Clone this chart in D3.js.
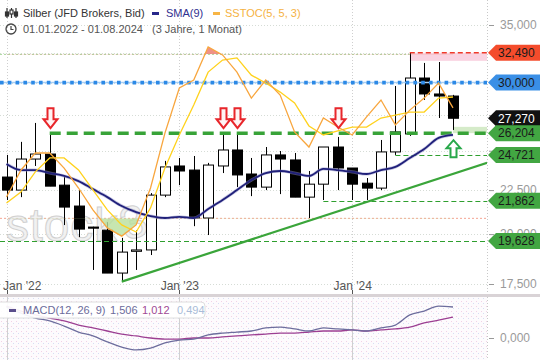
<!DOCTYPE html>
<html lang="de">
<head>
<meta charset="utf-8">
<title>Silber (JFD Brokers, Bid)</title>
<script src="https://cdnjs.cloudflare.com/ajax/libs/d3/7.8.5/d3.min.js"></script>
<style>
  html, body { margin: 0; padding: 0; background: #fff; }
  text { font-family: "Liberation Sans", Arial, sans-serif; }
</style>
</head>
<body>
<div id="chart"></div>
<script>
// Monatskerzen 01.2022 - 08.2024
const months = ["2022-01","2022-02","2022-03","2022-04","2022-05","2022-06","2022-07","2022-08",
  "2022-09","2022-10","2022-11","2022-12","2023-01","2023-02","2023-03","2023-04","2023-05","2023-06",
  "2023-07","2023-08","2023-09","2023-10","2023-11","2023-12","2024-01","2024-02","2024-03","2024-04",
  "2024-05","2024-06","2024-07","2024-08"];
const open  = [23.30, 22.50, 24.45, 24.78, 22.80, 21.56, 20.38, 20.21, 18.02, 19.10, 19.17, 22.20, 24.00, 23.74, 20.88, 24.00,
               25.05, 23.49, 22.68, 24.72, 24.39, 22.08, 22.86, 25.25, 23.87, 22.92, 22.62, 24.92, 26.15, 30.37, 29.10, 28.94];
const high  = [24.72, 25.60, 26.93, 26.22, 23.30, 22.50, 20.40, 20.65, 19.80, 20.21, 22.32, 24.33, 24.52, 24.65, 24.20, 26.08,
               26.08, 24.52, 25.25, 24.98, 24.85, 23.68, 25.25, 25.94, 23.87, 23.24, 25.73, 29.73, 32.49, 31.62, 31.70, 29.03];
const low   = [21.91, 22.08, 24.00, 22.74, 20.49, 19.84, 18.17, 18.02, 17.61, 18.17, 18.91, 22.08, 22.80, 20.43, 19.95, 23.55,
               22.68, 22.14, 22.50, 22.26, 22.08, 20.88, 21.91, 22.50, 21.91, 21.91, 22.50, 24.72, 26.01, 28.64, 27.29, 26.43];
const close = [22.50, 24.45, 24.78, 22.74, 21.50, 20.27, 20.32, 18.02, 19.06, 19.17, 22.20, 23.94, 23.68, 20.88, 24.06, 25.05,
               23.43, 22.68, 24.72, 24.45, 22.08, 22.86, 25.25, 23.87, 22.86, 22.62, 24.92, 26.29, 30.37, 29.10, 28.94, 27.27];

const sma9 = [24.13, 23.74, 23.74, 23.55, 23.37, 23.05, 22.56, 22.08, 21.56, 21.21, 20.99, 20.88, 20.94, 20.88, 21.39, 21.91,
              22.50, 23.11, 23.55, 23.68, 23.55, 23.37, 23.81, 23.74, 23.62, 23.49, 23.74, 23.94, 24.52, 25.11, 25.87, 26.08];

// SSTOC(5, 5, 3)
const stocK = [27.8, 37.6, 43.9, 43.9, 38.4, 31.1, 23.1, 16.5, 13.5, 17.6, 31.1, 51.2, 67.7, 70.6, 82.7, 79.8,
               73.5, 64.0, 70.6, 65.1, 51.6, 46.1, 56.7, 53.4, 50.5, 57.1, 63.3, 54.2, 59.6, 64.0, 69.5, 60.4];
const stocD = [25.6, 29.6, 37.0, 42.1, 42.1, 37.7, 30.4, 23.1, 17.6, 15.0, 23.8, 38.4, 50.5, 61.5, 73.5, 77.9,
               78.7, 72.4, 69.5, 66.2, 62.2, 53.8, 50.5, 52.0, 53.4, 53.4, 56.7, 57.8, 58.9, 58.9, 64.0, 64.4];
const stocLevels = [20, 80];

// MACD(12, 26, 9)
const macd       = [1.50, 1.21, 0.97, 0.83, 0.58, 0.29, 0.10, -0.19, -0.44, -0.58, -0.49, -0.24, -0.10, -0.05, 0.15, 0.24,
                    0.29, 0.34, 0.49, 0.53, 0.44, 0.34, 0.49, 0.44, 0.39, 0.34, 0.49, 0.63, 1.12, 1.31, 1.55, 1.506];
const macdSignal = [1.55, 1.31, 1.12, 0.97, 0.83, 0.63, 0.49, 0.34, 0.19, 0.10, 0.00, -0.05, -0.05, 0.00, 0.00, 0.05,
                    0.10, 0.15, 0.19, 0.24, 0.24, 0.29, 0.34, 0.34, 0.39, 0.34, 0.39, 0.44, 0.53, 0.73, 0.87, 1.012];
const macdLegend = [1.506, 1.012, 0.494];

const priceTicks = [17.5, 20, 22.5, 25, 27.5, 30, 32.5, 35];
const macdTicks = [0];

// Marken rechts
const markerValues = [32.49, 30.0, 27.27, 26.204, 24.721, 21.862, 19.628];
// Linien (Wert, Startkerze)
const supportLevels = [26.204, 24.721, 21.862, 19.628];
const supportStart  = [3, 27, 22, -1];
const resistLevel = 32.49, resistStart = 28;
const resistZone = [31.8, 32.49];
const supportZone = [26.204, 26.65], supportZoneStart = 31;
const blueLevel = 30.0;
const trendIdx = [8, 33.37];
const trendVal = [17.61, 24.2];
const downArrows = [3, 15, 16, 23];
const upArrows = [31];

const W = 540, H = 360;
const plotRight = 487, mainBottom = 295, macdTop = 297;

function drawChart() {
    const fmt = d3.formatLocale({ decimal: ",", thousands: ".", grouping: [3], currency: ["", " €"] }).format(".3f");

    const svg = d3.select('#chart').append('svg')
        .attr('width', W).attr('height', H);

    const x = d3.scaleLinear().domain([0, 31]).range([6.5, 453]);
    const y = d3.scaleLog().domain([17.5, 35]).range([284, 25]);
    const ys = d3.scaleLinear().domain([0, 100]).range([273, -0.3]);
    const ym = d3.scaleLinear().domain([0, 1.506]).range([338, 307]);
    const idx = d3.range(months.length);

    const defs = svg.append('defs');
    defs.append('clipPath').attr('id', 'clipMain')
        .append('rect').attr('x', 0).attr('y', 0).attr('width', plotRight).attr('height', mainBottom);
    defs.append('clipPath').attr('id', 'clipMacd')
        .append('rect').attr('x', 0).attr('y', macdTop).attr('width', plotRight).attr('height', H - macdTop);
    defs.append('clipPath').attr('id', 'clipLow')
        .append('rect').attr('x', 0).attr('y', ys(stocLevels[0])).attr('width', plotRight).attr('height', mainBottom - ys(stocLevels[0]));
    defs.append('clipPath').attr('id', 'clipHigh')
        .append('rect').attr('x', 0).attr('y', 0).attr('width', plotRight).attr('height', ys(stocLevels[1]));

    // Punktmuster fuer MACD-Hintergrund
    const pat = defs.append('pattern').attr('id', 'speckle')
        .attr('width', 5).attr('height', 5).attr('patternUnits', 'userSpaceOnUse');
    pat.append('rect').attr('width', 5).attr('height', 5).attr('fill', '#fdfbfd');
    pat.append('rect').attr('x', 1).attr('y', 1).attr('width', 1).attr('height', 1).attr('fill', '#f2d2e6');
    pat.append('rect').attr('x', 3).attr('y', 3).attr('width', 1).attr('height', 1).attr('fill', '#d6def4');

    svg.append('rect').attr('x', 0).attr('y', macdTop).attr('width', plotRight).attr('height', H - macdTop)
        .attr('fill', 'url(#speckle)');

    const main = svg.append('g').attr('clip-path', 'url(#clipMain)');

    // Gitter
    main.append('g').selectAll('line').data(priceTicks).enter().append('line')
        .attr('x1', 0).attr('x2', plotRight)
        .attr('y1', d => Math.round(y(d)) + 0.5).attr('y2', d => Math.round(y(d)) + 0.5)
        .attr('stroke', '#d6dcd6').attr('stroke-dasharray', '1,2');

    const janIdx = idx.filter(i => months[i].endsWith('-01'));
    main.append('g').selectAll('line').data(janIdx).enter().append('line')
        .attr('x1', d => Math.round(x(d)) + 0.5).attr('x2', d => Math.round(x(d)) + 0.5)
        .attr('y1', 0).attr('y2', mainBottom)
        .attr('stroke', '#cfcfcf').attr('stroke-dasharray', '1,2');
    svg.append('g').selectAll('line').data(janIdx).enter().append('line')
        .attr('x1', d => Math.round(x(d)) + 0.5).attr('x2', d => Math.round(x(d)) + 0.5)
        .attr('y1', macdTop).attr('y2', H)
        .attr('stroke', '#d0d0d0');

    // Stoch-Level
    main.append('line').attr('x1', 0).attr('x2', plotRight)
        .attr('y1', ys(80)).attr('y2', ys(80))
        .attr('stroke', '#a6d69a').attr('stroke-dasharray', '2,2');
    main.append('line').attr('x1', 0).attr('x2', plotRight)
        .attr('y1', ys(20)).attr('y2', ys(20))
        .attr('stroke', '#f5a492').attr('stroke-dasharray', '2,2');

    // Wasserzeichen
    const wm = main.append('g').attr('opacity', 0.8);
    wm.append('text').attr('x', 6).attr('y', 241).attr('font-size', 46)
        .attr('letter-spacing', 1)
        .attr('fill', '#eeeeee').attr('stroke', '#c6c6c6').attr('stroke-width', 1)
        .text('stock');
    wm.append('text').attr('transform', 'translate(126,241) rotate(-18)').attr('font-size', 46)
        .attr('fill', '#eeeeee').attr('stroke', '#c6c6c6').attr('stroke-width', 1)
        .text('3');

    // Zonen
    main.append('rect')
        .attr('x', x(resistStart)).attr('width', plotRight - x(resistStart))
        .attr('y', y(resistZone[1])).attr('height', y(resistZone[0]) - y(resistZone[1]))
        .attr('fill', '#f9d3e1');
    main.append('rect')
        .attr('x', x(supportZoneStart)).attr('width', plotRight - x(supportZoneStart))
        .attr('y', y(supportZone[1])).attr('height', y(supportZone[0]) - y(supportZone[1]))
        .attr('fill', '#d5ebc9');

    // Kerzen
    const candles = main.append('g').selectAll('g').data(idx).enter().append('g');
    candles.append('line')
        .attr('x1', i => Math.round(x(i)) + 0.5).attr('x2', i => Math.round(x(i)) + 0.5)
        .attr('y1', i => y(high[i])).attr('y2', i => y(low[i]))
        .attr('stroke', '#000').attr('stroke-width', 1);
    candles.append('rect')
        .attr('x', i => Math.round(x(i)) - 4.5)
        .attr('width', 10)
        .attr('y', i => y(Math.max(open[i], close[i])))
        .attr('height', i => Math.max(1, Math.abs(y(open[i]) - y(close[i]))))
        .attr('fill', i => close[i] >= open[i] ? '#fff' : '#000')
        .attr('stroke', '#000').attr('stroke-width', 1);

    // Stoch-Flaechen
    const area = lvl => d3.area().x((d, i) => x(i)).y0(ys(lvl)).y1(d => ys(d));
    main.append('path').datum(stocK).attr('d', area(20))
        .attr('clip-path', 'url(#clipLow)').attr('fill', '#b9e09c').attr('opacity', 0.8);
    main.append('path').datum(stocK).attr('d', area(80))
        .attr('clip-path', 'url(#clipHigh)').attr('fill', '#ec7f73').attr('opacity', 0.85);

    // Horizontale Linien
    supportLevels.forEach((v, k) => {
        if (k === 0) return;
        main.append('line')
            .attr('x1', Math.max(0, x(supportStart[k]))).attr('x2', plotRight)
            .attr('y1', Math.round(y(v)) + 0.5).attr('y2', Math.round(y(v)) + 0.5)
            .attr('stroke', '#2f9f2f').attr('stroke-width', 1.2).attr('stroke-dasharray', '5,3');
    });
    main.append('line')
        .attr('x1', x(resistStart)).attr('x2', plotRight)
        .attr('y1', y(resistLevel)).attr('y2', y(resistLevel))
        .attr('stroke', '#ef3a2a').attr('stroke-width', 1.5).attr('stroke-dasharray', '5,3');
    main.append('line')
        .attr('x1', 0).attr('x2', plotRight)
        .attr('y1', y(blueLevel)).attr('y2', y(blueLevel))
        .attr('stroke', '#a8cff5').attr('stroke-width', 1.5);
    main.append('line')
        .attr('x1', 0).attr('x2', plotRight)
        .attr('y1', y(blueLevel)).attr('y2', y(blueLevel))
        .attr('stroke', '#2c89e6').attr('stroke-width', 3.6).attr('stroke-dasharray', '3.6,4.2');
    main.append('line')
        .attr('x1', x(supportStart[0])).attr('x2', plotRight)
        .attr('y1', y(supportLevels[0])).attr('y2', y(supportLevels[0]))
        .attr('stroke', '#38a338').attr('stroke-width', 3.5).attr('stroke-dasharray', '11,6');

    // Trendlinie
    main.append('line')
        .attr('x1', x(trendIdx[0])).attr('y1', y(trendVal[0]))
        .attr('x2', x(trendIdx[1])).attr('y2', y(trendVal[1]))
        .attr('stroke', '#3aa53a').attr('stroke-width', 2.2);

    // SMA(9)
    main.append('path').datum(sma9)
        .attr('d', d3.line().x((d, i) => x(i)).y(d => y(d)).curve(d3.curveMonotoneX))
        .attr('fill', 'none').attr('stroke', '#8f8fc8').attr('stroke-width', 3.2).attr('opacity', 0.5);
    main.append('path').datum(sma9)
        .attr('d', d3.line().x((d, i) => x(i)).y(d => y(d)).curve(d3.curveMonotoneX))
        .attr('fill', 'none').attr('stroke', '#20207a').attr('stroke-width', 1.8);

    // SSTOC
    const sline = d3.line().x((d, i) => x(i)).y(d => ys(d));
    main.append('path').datum(stocD).attr('d', sline)
        .attr('fill', 'none').attr('stroke', '#ffd21c').attr('stroke-width', 1.3);
    main.append('path').datum(stocK).attr('d', sline)
        .attr('fill', 'none').attr('stroke', '#f8a63e').attr('stroke-width', 1.3);

    // Pfeile
    const lvlY = y(supportLevels[0]);
    const downPath = (cx, ty) => `M${cx - 3},${ty - 20}H${cx + 3}V${ty - 9}H${cx + 7}L${cx},${ty}L${cx - 7},${ty - 9}H${cx - 3}Z`;
    const upPath = (cx, ty) => `M${cx - 3},${ty + 17}H${cx + 3}V${ty + 8}H${cx + 7}L${cx},${ty}L${cx - 7},${ty + 8}H${cx - 3}Z`;
    main.append('g').selectAll('path').data(downArrows).enter().append('path')
        .attr('d', i => downPath(Math.round(x(i)) + 0.5, lvlY - 5))
        .attr('fill', '#fff4f4').attr('stroke', '#e8262b').attr('stroke-width', 2);
    main.append('g').selectAll('path').data(upArrows).enter().append('path')
        .attr('d', i => upPath(Math.round(x(i)) + 0.5, lvlY + 7))
        .attr('fill', '#fff').attr('stroke', '#28a84a').attr('stroke-width', 2);

    // Rechte Achse
    svg.append('line').attr('x1', plotRight + 0.5).attr('x2', plotRight + 0.5)
        .attr('y1', 0).attr('y2', H)
        .attr('stroke', '#c8c8c8').attr('stroke-dasharray', '1,2');

    // Beschriftungen, die ganz unter einer Marke liegen, weglassen
    const visibleTicks = priceTicks.filter(t => !markerValues.some(m => Math.abs(y(t) - y(m)) < 5));
    const yAxis = svg.append('g').attr('transform', `translate(${plotRight + 2},0)`)
        .call(d3.axisRight(y).tickValues(priceTicks).tickFormat(d => visibleTicks.includes(d) ? fmt(d) : '')
            .tickSize(5).tickPadding(6));
    yAxis.select('.domain').remove();
    yAxis.selectAll('line').attr('stroke', '#999');
    yAxis.selectAll('text').attr('font-size', 12).attr('fill', '#9a9a9a')
        .attr('font-family', '"Liberation Sans", Arial, sans-serif');

    const mAxis = svg.append('g').attr('transform', `translate(${plotRight + 2},0)`)
        .call(d3.axisRight(ym).tickValues(macdTicks).tickFormat(fmt).tickSize(5).tickPadding(6));
    mAxis.select('.domain').remove();
    mAxis.selectAll('line').attr('stroke', '#999');
    mAxis.selectAll('text').attr('font-size', 12).attr('fill', '#9a9a9a')
        .attr('font-family', '"Liberation Sans", Arial, sans-serif');

    // Preismarken
    const markerFill = ['#f44c2c', '#3a8fe6', '#111111', '#42a642', '#42a642', '#42a642', '#42a642'];
    const markerText = ['#1a1a1a', '#1a1a1a', '#ffffff', '#1a1a1a', '#1a1a1a', '#1a1a1a', '#1a1a1a'];
    const mk = svg.append('g').selectAll('g').data(markerValues).enter().append('g')
        .attr('transform', d => `translate(0,${y(d)})`);
    mk.append('path')
        .attr('d', `M${plotRight + 1},0L${plotRight + 9},-8H${W}V8H${plotRight + 9}Z`)
        .attr('fill', (d, k) => markerFill[k]);
    mk.append('text').attr('x', 498).attr('dy', '0.36em')
        .attr('font-size', 12).attr('fill', (d, k) => markerText[k])
        .text(d => fmt(d));

    // X-Achse
    const xAxis = svg.append('g').attr('transform', 'translate(0,278)')
        .call(d3.axisBottom(x).tickValues(janIdx)
            .tickFormat(i => "Jan '" + months[i].slice(2, 4)).tickSize(0).tickPadding(3));
    xAxis.select('.domain').remove();
    xAxis.selectAll('text').attr('font-size', 12).attr('fill', '#555')
        .attr('font-family', '"Liberation Sans", Arial, sans-serif');
    xAxis.selectAll('.tick').each(function () {
        const t = d3.select(this);
        const tx = +t.attr('transform').match(/translate\(([-\d.]+)/)[1];
        const txt = t.select('text');
        const b = txt.node().getBBox();
        if (tx + b.x < 3) txt.attr('x', 3 - tx - b.x);
    });

    // Trenner
    svg.append('rect').attr('x', 0).attr('y', mainBottom - 1).attr('width', W).attr('height', 3)
        .attr('fill', '#d9d3d6');
    svg.append('g').selectAll('line').data(janIdx).enter().append('line')
        .attr('x1', d => Math.round(x(d)) + 0.5).attr('x2', d => Math.round(x(d)) + 0.5)
        .attr('y1', mainBottom - 5).attr('y2', mainBottom - 1)
        .attr('stroke', '#555');

    // MACD
    const mg = svg.append('g').attr('clip-path', 'url(#clipMacd)');
    const mline = d3.line().x((d, i) => x(i)).y(d => ym(d)).curve(d3.curveMonotoneX);
    mg.append('path').datum(macdSignal).attr('d', mline)
        .attr('fill', 'none').attr('stroke', '#9c3f92').attr('stroke-width', 1.3);
    mg.append('path').datum(macd).attr('d', mline)
        .attr('fill', 'none').attr('stroke', '#6d6d9d').attr('stroke-width', 1.3);

    const lg = svg.append('g');
    lg.append('rect').attr('x', -4).attr('y', 302).attr('width', 209).attr('height', 16).attr('rx', 4)
        .attr('fill', '#fff').attr('fill-opacity', 0.92).attr('stroke', '#dedede');
    lg.append('rect').attr('x', 9).attr('y', 309).attr('width', 7).attr('height', 3).attr('fill', '#5b4f8c');
    lg.append('text').attr('x', 23).attr('y', 314).attr('font-size', 11).attr('fill', '#6b6b9b')
        .text('MACD(12, 26, 9)');
    const legColors = ['#6b6b9b', '#a04a94', '#a9bcd8'];
    const legX = [110, 142, 177];
    macdLegend.forEach((v, k) => {
        lg.append('text').attr('x', legX[k]).attr('y', 314).attr('font-size', 11)
            .attr('fill', legColors[k]).text(fmt(v));
    });

    // Kopfzeile
    const hd = svg.append('g');
    const ic = hd.append('g').attr('stroke', '#333').attr('stroke-width', 1.2).attr('fill', 'none');
    [7, 11.5, 16].forEach((cx, k) => {
        ic.append('line').attr('x1', cx).attr('x2', cx).attr('y1', 8).attr('y2', 18);
        ic.append('rect').attr('x', cx - 1.5).attr('y', k === 1 ? 10 : 12).attr('width', 3).attr('height', 4)
            .attr('fill', k === 1 ? '#fff' : '#333');
    });
    hd.append('text').attr('x', 23).attr('y', 17).attr('font-size', 11).attr('fill', '#333')
        .text('Silber (JFD Brokers, Bid)');
    hd.append('rect').attr('x', 152).attr('y', 12).attr('width', 7).attr('height', 3).attr('fill', '#27278a');
    hd.append('text').attr('x', 166).attr('y', 17).attr('font-size', 11).attr('fill', '#30308f')
        .text('SMA(9)');
    hd.append('rect').attr('x', 213).attr('y', 12).attr('width', 7).attr('height', 3).attr('fill', '#f7b545');
    hd.append('text').attr('x', 225).attr('y', 17).attr('font-size', 11).attr('fill', '#f5b243')
        .text('SSTOC(5, 5, 3)');

    hd.append('circle').attr('cx', 11).attr('cy', 29).attr('r', 5)
        .attr('fill', 'none').attr('stroke', '#444').attr('stroke-width', 1.3);
    hd.append('path').attr('d', 'M11,26V29.5H13.5')
        .attr('fill', 'none').attr('stroke', '#444').attr('stroke-width', 1.2);
    hd.append('text').attr('x', 23).attr('y', 33).attr('font-size', 11).attr('fill', '#555')
        .text('01.01.2022 - 01.08.2024');
    hd.append('text').attr('x', 152).attr('y', 33).attr('font-size', 11).attr('fill', '#555')
        .text('(3 Jahre, 1 Monat)');
}

drawChart();
</script>
</body>
</html>
